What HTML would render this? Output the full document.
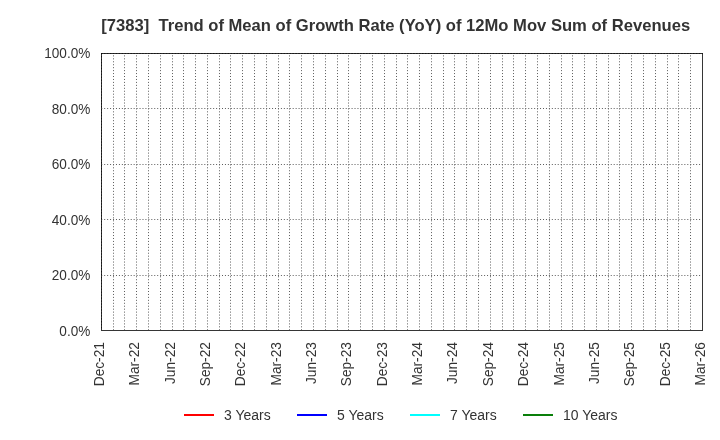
<!DOCTYPE html><html><head><meta charset="utf-8"><style>html,body{margin:0;padding:0;background:#fff;}svg{display:block;will-change:transform;}text{font-family:"Liberation Sans",sans-serif;}</style></head><body><svg width="720" height="440" viewBox="0 0 720 440"><rect width="720" height="440" fill="#fff"/><text x="101.3" y="31" font-size="16.6" font-weight="bold" fill="#333">[7383]&#160;&#160;Trend of Mean of Growth Rate (YoY) of 12Mo Mov Sum of Revenues</text><path d="M113.5 54V330M124.5 54V330M136.5 54V330M148.5 54V330M160.5 54V330M172.5 54V330M183.5 54V330M195.5 54V330M207.5 54V330M219.5 54V330M230.5 54V330M242.5 54V330M254.5 54V330M266.5 54V330M278.5 54V330M289.5 54V330M301.5 54V330M313.5 54V330M325.5 54V330M337.5 54V330M348.5 54V330M360.5 54V330M372.5 54V330M384.5 54V330M396.5 54V330M407.5 54V330M419.5 54V330M431.5 54V330M443.5 54V330M454.5 54V330M466.5 54V330M478.5 54V330M490.5 54V330M502.5 54V330M513.5 54V330M525.5 54V330M537.5 54V330M549.5 54V330M561.5 54V330M572.5 54V330M584.5 54V330M596.5 54V330M608.5 54V330M619.5 54V330M631.5 54V330M643.5 54V330M655.5 54V330M667.5 54V330M678.5 54V330M690.5 54V330" stroke="#5c5c5c" stroke-width="1" stroke-dasharray="1 1.945" stroke-dashoffset="1.545" fill="none"/><path d="M102 108.5H702M102 164.5H702M102 219.5H702M102 275.5H702" stroke="#5c5c5c" stroke-width="1" stroke-dasharray="1 1.945" stroke-dashoffset="0.745" fill="none"/><rect x="101.5" y="53.5" width="601" height="277" fill="none" stroke="#363636" stroke-width="1"/><path d="M101.5 53V330M101 53.5H703" stroke="#000" stroke-width="1" stroke-dasharray="1.5 1.445" fill="none" opacity="0.6"/><text transform="translate(90.3,57.50) scale(1,1.1)" font-size="13.6" fill="#333" text-anchor="end">100.0%</text><text transform="translate(90.3,113.50) scale(1,1.1)" font-size="13.6" fill="#333" text-anchor="end">80.0%</text><text transform="translate(90.3,168.50) scale(1,1.1)" font-size="13.6" fill="#333" text-anchor="end">60.0%</text><text transform="translate(90.3,224.50) scale(1,1.1)" font-size="13.6" fill="#333" text-anchor="end">40.0%</text><text transform="translate(90.3,279.50) scale(1,1.1)" font-size="13.6" fill="#333" text-anchor="end">20.0%</text><text transform="translate(90.3,335.50) scale(1,1.1)" font-size="13.6" fill="#333" text-anchor="end">0.0%</text><text transform="translate(104.00,342.1) rotate(-90) scale(1,1.1)" font-size="13.7" fill="#333" text-anchor="end">Dec-21</text><text transform="translate(139.00,342.1) rotate(-90) scale(1,1.1)" font-size="13.7" fill="#333" text-anchor="end">Mar-22</text><text transform="translate(175.00,342.1) rotate(-90) scale(1,1.1)" font-size="13.7" fill="#333" text-anchor="end">Jun-22</text><text transform="translate(210.00,342.1) rotate(-90) scale(1,1.1)" font-size="13.7" fill="#333" text-anchor="end">Sep-22</text><text transform="translate(245.00,342.1) rotate(-90) scale(1,1.1)" font-size="13.7" fill="#333" text-anchor="end">Dec-22</text><text transform="translate(281.00,342.1) rotate(-90) scale(1,1.1)" font-size="13.7" fill="#333" text-anchor="end">Mar-23</text><text transform="translate(316.00,342.1) rotate(-90) scale(1,1.1)" font-size="13.7" fill="#333" text-anchor="end">Jun-23</text><text transform="translate(351.00,342.1) rotate(-90) scale(1,1.1)" font-size="13.7" fill="#333" text-anchor="end">Sep-23</text><text transform="translate(387.00,342.1) rotate(-90) scale(1,1.1)" font-size="13.7" fill="#333" text-anchor="end">Dec-23</text><text transform="translate(422.00,342.1) rotate(-90) scale(1,1.1)" font-size="13.7" fill="#333" text-anchor="end">Mar-24</text><text transform="translate(457.00,342.1) rotate(-90) scale(1,1.1)" font-size="13.7" fill="#333" text-anchor="end">Jun-24</text><text transform="translate(493.00,342.1) rotate(-90) scale(1,1.1)" font-size="13.7" fill="#333" text-anchor="end">Sep-24</text><text transform="translate(528.00,342.1) rotate(-90) scale(1,1.1)" font-size="13.7" fill="#333" text-anchor="end">Dec-24</text><text transform="translate(564.00,342.1) rotate(-90) scale(1,1.1)" font-size="13.7" fill="#333" text-anchor="end">Mar-25</text><text transform="translate(599.00,342.1) rotate(-90) scale(1,1.1)" font-size="13.7" fill="#333" text-anchor="end">Jun-25</text><text transform="translate(634.00,342.1) rotate(-90) scale(1,1.1)" font-size="13.7" fill="#333" text-anchor="end">Sep-25</text><text transform="translate(670.00,342.1) rotate(-90) scale(1,1.1)" font-size="13.7" fill="#333" text-anchor="end">Dec-25</text><text transform="translate(705.00,342.1) rotate(-90) scale(1,1.1)" font-size="13.7" fill="#333" text-anchor="end">Mar-26</text><line x1="184" y1="415" x2="214" y2="415" stroke="#ff0000" stroke-width="2"/><text transform="translate(224,419.6) scale(1,1.1)" font-size="14" fill="#333">3 Years</text><line x1="297" y1="415" x2="327" y2="415" stroke="#0000ff" stroke-width="2"/><text transform="translate(337,419.6) scale(1,1.1)" font-size="14" fill="#333">5 Years</text><line x1="410" y1="415" x2="440" y2="415" stroke="#00ffff" stroke-width="2"/><text transform="translate(450,419.6) scale(1,1.1)" font-size="14" fill="#333">7 Years</text><line x1="523" y1="415" x2="553" y2="415" stroke="#0a7f0a" stroke-width="2"/><text transform="translate(563,419.6) scale(1,1.1)" font-size="14" fill="#333">10 Years</text></svg></body></html>
